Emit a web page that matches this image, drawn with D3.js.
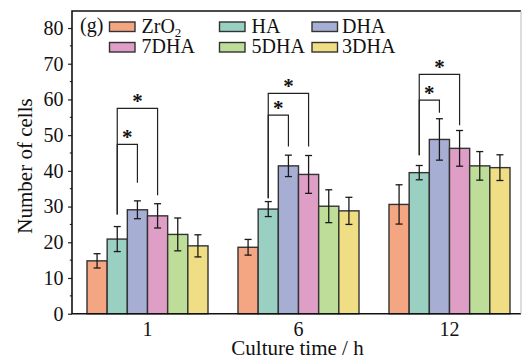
<!DOCTYPE html>
<html><head><meta charset="utf-8">
<script src="https://cdn.jsdelivr.net/npm/d3@7"></script>
<style>
html,body{margin:0;padding:0;background:#fff;}
svg{display:block;}
svg text{font-family:"Liberation Serif","Times New Roman",Times,"Tinos","DejaVu Serif","Noto Serif",serif !important;fill:#111;}
</style></head>
<body>
<svg id="chart" width="522" height="359"></svg>
<script>
// ---- data ----
const categories = ["1", "6", "12"];
const seriesNames = ["ZrO2", "HA", "DHA", "7DHA", "5DHA", "3DHA"];
const seriesColors = ["#F4A582", "#99D0C1", "#A7AED4", "#DE9EC5", "#BDDD98", "#F0DE85"];
// means per series, one value per category
const valZrO2 = [14.8, 18.6, 30.6];
const valHA   = [20.9, 29.3, 39.5];
const valDHA  = [29.1, 41.4, 48.8];
const val7DHA = [27.4, 39.0, 46.3];
const val5DHA = [22.2, 30.1, 41.4];
const val3DHA = [19.0, 28.8, 40.9];
// error (± sd)
const errZrO2 = [2.0, 2.2, 5.5];
const errHA   = [3.5, 2.1, 2.0];
const errDHA  = [2.5, 3.0, 5.8];
const err7DHA = [3.4, 5.3, 5.0];
const err5DHA = [4.6, 4.6, 4.0];
const err3DHA = [3.1, 3.8, 3.6];
const yTicks = [0, 10, 20, 30, 40, 50, 60, 70, 80];
// significance brackets: category, from series, to series, left leg bottom, top, right leg bottom
const brackets = [
  {cat: "1",  from: "HA", to: "DHA",  leftEnd: 27.8, top: 47.4, rightEnd: 36.7},
  {cat: "1",  from: "HA", to: "7DHA", leftEnd: 27.8, top: 57.5, rightEnd: 33.2},
  {cat: "6",  from: "HA", to: "DHA",  leftEnd: 32.3, top: 55.6, rightEnd: 46.8},
  {cat: "6",  from: "HA", to: "7DHA", leftEnd: 32.3, top: 61.7, rightEnd: 46.8},
  {cat: "12", from: "HA", to: "DHA",  leftEnd: 44.4, top: 59.8, rightEnd: 56.3},
  {cat: "12", from: "HA", to: "7DHA", leftEnd: 44.4, top: 67.0, rightEnd: 52.8}
];

const values = [valZrO2, valHA, valDHA, val7DHA, val5DHA, val3DHA];
const errors = [errZrO2, errHA, errDHA, err7DHA, err5DHA, err3DHA];
const rows = [];
seriesNames.forEach((s, si) => categories.forEach((c, ci) => {
  rows.push({series: s, cat: c, v: values[si][ci], e: errors[si][ci], color: seriesColors[si]});
}));

// ---- layout ----
const L = 72, R = 521, T = 11, B = 313.7;
const svg = d3.select("#chart");
const x = d3.scaleBand().domain(categories).range([L, L + 453]).padding(0);
const xs = d3.scaleBand().domain(seriesNames).range([-60.5, 60.5]);
const y = d3.scaleLinear().domain([0, 85]).range([B, B - 85 * 3.571]);

// bars
svg.append("g").selectAll("rect").data(rows).join("rect")
  .attr("x", d => x(d.cat) + x.bandwidth() / 2 + xs(d.series))
  .attr("y", d => y(d.v))
  .attr("width", xs.bandwidth())
  .attr("height", d => y(0) - y(d.v))
  .attr("fill", d => d.color)
  .attr("stroke", "#333").attr("stroke-width", 1.4);

// error bars
const eg = svg.append("g").attr("stroke", "#1a1a1a").attr("stroke-width", 1.3);
rows.forEach(d => {
  const cx = x(d.cat) + x.bandwidth() / 2 + xs(d.series) + xs.bandwidth() / 2;
  eg.append("line").attr("x1", cx).attr("x2", cx).attr("y1", y(d.v + d.e)).attr("y2", y(d.v - d.e));
  eg.append("line").attr("x1", cx - 3.5).attr("x2", cx + 3.5).attr("y1", y(d.v + d.e)).attr("y2", y(d.v + d.e));
  eg.append("line").attr("x1", cx - 3.5).attr("x2", cx + 3.5).attr("y1", y(d.v - d.e)).attr("y2", y(d.v - d.e));
});

// brackets
const bg = svg.append("g");
brackets.forEach(b => {
  const x1 = x(b.cat) + x.bandwidth() / 2 + xs(b.from) + xs.bandwidth() / 2;
  const x2 = x(b.cat) + x.bandwidth() / 2 + xs(b.to) + xs.bandwidth() / 2;
  bg.append("path")
    .attr("d", `M${x1},${y(b.leftEnd)}V${y(b.top)}H${x2}V${y(b.rightEnd)}`)
    .attr("fill", "none").attr("stroke", "#222").attr("stroke-width", 1.2);
  bg.append("text").attr("x", (x1 + x2) / 2).attr("y", y(b.top) - 0.5)
    .attr("text-anchor", "middle").attr("font-size", 21).attr("font-weight", "bold").text("*");
});

// y axis
const yAxis = d3.axisLeft(y).tickValues(yTicks).tickSize(4).tickPadding(4.5).tickFormat(d3.format("d"));
const ga = svg.append("g").attr("transform", `translate(${L},0)`).call(yAxis);
ga.select(".domain").remove();
ga.selectAll("line").attr("stroke", "#222").attr("stroke-width", 1.2);
ga.selectAll("text").attr("font-size", 20).attr("fill", "#111");
const minor = d3.range(5, 85, 10);
svg.append("g").selectAll("line").data(minor).join("line")
  .attr("x1", L - 2.2).attr("x2", L).attr("y1", d => y(d)).attr("y2", d => y(d))
  .attr("stroke", "#222").attr("stroke-width", 1.1);

// x axis labels
const xAxis = d3.axisBottom(x).tickSize(0).tickPadding(8);
const gx = svg.append("g").attr("transform", `translate(0,${B})`).call(xAxis);
gx.select(".domain").remove();
gx.selectAll("text").attr("font-size", 20).attr("fill", "#111");

// frame
svg.append("path").attr("d", `M${R},${T}H${L}V${B}H${R}`)
  .attr("fill", "none").attr("stroke", "#111").attr("stroke-width", 1.6);
svg.append("line").attr("x1", R).attr("x2", R).attr("y1", T).attr("y2", B)
  .attr("stroke", "#bbb").attr("stroke-width", 1);

// axis titles
svg.append("text").attr("x", 297.5).attr("y", 355)
  .attr("text-anchor", "middle").attr("font-size", 21).text("Culture time / h");
svg.append("text").attr("transform", "translate(31.5,166) rotate(-90)")
  .attr("text-anchor", "middle").attr("font-size", 21).text("Number of cells");

// panel label
svg.append("text").attr("x", 80).attr("y", 31.5).attr("font-size", 20).text("(g)");

// legend
const legX = [109.5, 219.5, 312];
const legTX = [141.5, 251.5, 342];
const legY = [32.5, 53];
seriesNames.forEach((s, i) => {
  const col = i % 3, row = Math.floor(i / 3);
  svg.append("rect").attr("x", legX[col]).attr("y", legY[row] - 10.5)
    .attr("width", 25.5).attr("height", 9.5)
    .attr("fill", seriesColors[i]).attr("stroke", "#333").attr("stroke-width", 1.4);
  const t = svg.append("text").attr("x", legTX[col]).attr("y", legY[row]).attr("font-size", 20);
  if (s === "ZrO2") {
    t.append("tspan").text("ZrO");
    t.append("tspan").attr("font-size", 13).attr("dy", 4).text("2");
  } else t.text(s);
});
</script>
</body></html>
